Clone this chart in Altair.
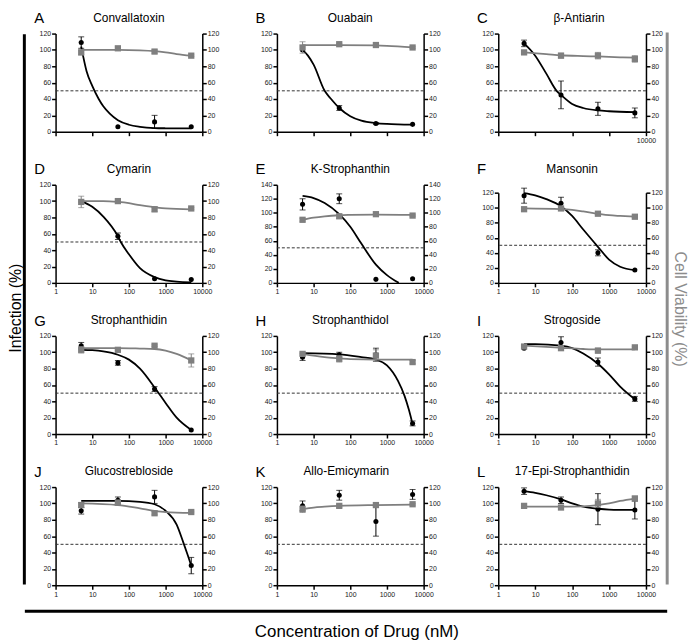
import altair as alt
import pandas as pd

# ---------------- data ----------------
conc = [5, 50, 500, 5000]
letters = list("ABCDEFGHIJKL")
names = ["Convallatoxin", "Ouabain", "β-Antiarin", "Cymarin", "K-Strophanthin", "Mansonin",
         "Strophanthidin", "Strophanthidol", "Strogoside", "Glucostrebloside",
         "Allo-Emicymarin", "17-Epi-Strophanthidin"]

inf_mean = [
    [109, 6, 12, 6], [100, 29, 10, 9], [108, 45, 28, 23],
    [99, 57, 5, 4], [112, 120, 5, 6], [116, 106, 40, 17],
    [108, 87, 55, 5], [94, 97, 97, 13], [105, 112, 88, 43],
    [91, 104, 108, 24], [97, 110, 78, 111], [115, 104, 93, 92],
]
inf_err = [
    [7, 0, 8, 0], [0, 3, 1, 0], [4, 17, 8, 6],
    [0, 4, 0, 0], [8, 7, 0, 0], [10, 8, 4, 0],
    [4, 3, 3, 0], [4, 3, 8, 3], [0, 7, 5, 3],
    [4, 4, 8, 10], [6, 6, 18, 6], [4, 4, 19, 11],
]
via_mean = [
    [97, 102, 98, 93], [103, 107, 106, 103], [97, 93, 93, 89],
    [99, 100, 90, 91], [90, 95, 98, 96], [98, 99, 92, 88],
    [103, 103, 108, 90], [98, 92, 96, 88], [107, 105, 102, 106],
    [98, 101, 88, 89.5], [93, 97, 98, 99], [97, 95, 100, 106],
]
via_err = [
    [3, 2, 2, 1], [7, 1, 1, 1], [1, 3, 4, 4],
    [7, 1, 3, 1], [2, 3, 1, 1], [1, 2, 1, 1],
    [4, 1, 1, 8], [2, 4, 7, 2], [1, 3, 3, 1],
    [3, 3, 2, 1], [4, 2, 1, 1], [1, 1, 5, 3],
]

# fitted curves
inf_cx = [
    [5, 7, 10, 15, 20, 30, 50, 100, 200, 500, 1000, 5000],
    [5, 7, 10, 20, 30, 50, 100, 200, 500, 1000, 2000, 5000],
    [5, 10, 20, 38, 50, 100, 200, 500, 1000, 5000],
    [5, 10, 20, 50, 60, 100, 200, 500, 1000, 2000, 5000],
    [5, 10, 20, 50, 100, 200, 500, 1000, 2100],
    [5, 10, 20, 50, 100, 200, 500, 1000, 2000, 5000],
    [5, 10, 20, 50, 100, 200, 500, 1000, 2000, 5000],
    [5, 50, 200, 500, 1000, 2000, 3000, 4000, 5000],
    [5, 10, 50, 100, 200, 500, 1000, 2000, 5000],
    [5, 50, 200, 500, 1000, 2000, 3000, 4000, 5000],
    [],
    [5, 10, 20, 50, 100, 200, 500, 1000, 5000],
]
inf_cy = [
    [104, 74, 56, 40, 31, 22, 14, 8.5, 6, 4.5, 4.2, 4],
    [100, 93, 82, 50, 40, 29, 19, 13.5, 10.5, 9.5, 9, 8.7],
    [108, 93, 71, 50, 45, 34, 29, 26, 25, 24],
    [100, 93, 81, 57, 50, 35, 18, 7, 3, 1.5, 0.5],
    [124, 121, 114, 98, 80, 56, 26, 11, 0],
    [119.5, 116.5, 111.5, 102, 89, 71, 48, 31, 21.5, 17],
    [103, 102.5, 101, 97, 91, 80, 57, 38, 20, 5],
    [99, 97.5, 94, 91, 84, 65, 47, 29, 12],
    [110, 110, 108, 105, 98.5, 86, 73, 58, 42.5],
    [103, 103, 102, 99, 91, 74, 53, 37, 24],
    [],
    [115, 113, 110, 105, 100, 96, 93.5, 92.5, 92],
]
via_cx = [
    [5, 50, 200, 500, 1000, 2000, 5000],
    [5, 50, 500, 1000, 5000],
    [5, 20, 50, 200, 500, 2000, 5000],
    [5, 20, 50, 100, 200, 500, 1000, 5000],
    [5, 10, 20, 50, 100, 500, 5000],
    [5, 50, 100, 200, 500, 1000, 2000, 5000],
    [5, 50, 200, 500, 1000, 2000, 5000],
    [5, 20, 50, 100, 500, 5000],
    [5, 50, 200, 500, 5000],
    [5, 50, 200, 500, 1000, 5000],
    [5, 10, 20, 50, 500, 5000],
    [5, 50, 200, 500, 1000, 2000, 5000],
]
via_cy = [
    [100, 100, 99.5, 98.5, 97, 95, 93],
    [106, 106, 105.5, 105, 103],
    [97, 95, 93.5, 92.5, 92, 91, 90.5],
    [100, 100, 99, 97.5, 95, 92.5, 91, 90],
    [90, 93, 95, 96.5, 97, 97.5, 97],
    [99, 98, 97, 95, 92, 90, 89, 88],
    [105, 105, 104.5, 104, 102, 98, 90],
    [98, 94, 92.5, 91.5, 91, 91],
    [108, 105.5, 104, 103.5, 103.5],
    [100, 98, 94, 91, 89.5, 88.5],
    [93, 95, 96, 97, 98, 98.5],
    [96, 96, 96.5, 98, 100, 103, 106],
]
xticks = [1, 10, 100, 1000, 10000]

# ---------------- style / layout ----------------
FONT = "Liberation Sans"
GRAY = "#7f7f7f"
LINEGRAY = "#8c8c8c"
H = 99
WIDTHS = [148, 148, 149]
TITLE_DX = [0, 0, 7, 0, 0, 0, 0, 0, 0, 0, -4, 0]


def text_layer(t, x, y, size, color="black", align="center", baseline="alphabetic", angle=0):
    kw = dict(fontSize=size, font=FONT, color=color, align=align, baseline=baseline)
    if angle:
        kw["angle"] = angle
    return alt.Chart(pd.DataFrame({"t": [t]})).mark_text(**kw).encode(
        x=alt.value(x), y=alt.value(y), text="t:N")


def rule_layer(color, **pos):
    enc = {k: alt.value(v) for k, v in pos.items()}
    return alt.Chart(pd.DataFrame({"a": [0]})).mark_rule(color=color, strokeWidth=3).encode(**enc)


def group(i, mean, err, cx, cy, color, mark, yfn, X):
    layers = []
    if cx:
        layers.append(alt.Chart(pd.DataFrame({"x": cx, "y": cy})).mark_line(
            color=color, strokeWidth=1.8, interpolate="monotone", clip=True
        ).encode(x=X("x"), y=yfn("y")))
    d = pd.DataFrame({"x": conc, "m": mean, "e": err})
    d["lo"] = d.m - d.e
    d["hi"] = d.m + d.e
    db = d[d.e > 0]
    if len(db):
        layers.append(alt.Chart(db).mark_rule(color=color, strokeWidth=1).encode(
            x=X("x"), y=yfn("lo"), y2="hi:Q"))
        caps = pd.DataFrame({"x": list(db.x) * 2, "y": list(db.lo) + list(db.hi)})
        layers.append(alt.Chart(caps).mark_tick(
            color=color, orient="horizontal", size=6, thickness=1
        ).encode(x=X("x"), y=yfn("y")))
    if mark == "circle":
        layers.append(alt.Chart(d).mark_circle(color=color, size=26, opacity=1).encode(
            x=X("x"), y=yfn("m")))
    else:
        layers.append(alt.Chart(d).mark_square(color=color, size=40, opacity=1).encode(
            x=X("x"), y=yfn("m")))
    return layers


def panel(i):
    row, col = divmod(i, 3)
    w = WIDTHS[col]
    ymax = 140 if i == 4 else 120
    yvals = list(range(0, ymax + 1, 20))
    if i == 5:
        ysc = alt.Scale(domain=[0, ymax], nice=False, range=[H, 8])
    else:
        ysc = alt.Scale(domain=[0, ymax], nice=False)
    xsc = alt.Scale(type="log", domain=[1, 10000], nice=False)
    common = dict(domainColor="black", domainWidth=1.5, tickColor="black", tickWidth=1.5,
                  tickSize=4, labelFont=FONT, labelFontSize=7, labelColor="#222",
                  labelPadding=1, grid=False, title=None)
    xkw = dict(common, values=xticks, format="d", labelFlush=False, labelOverlap=False)
    if row == 0:
        if col == 2:
            xkw["labelExpr"] = "datum.value == 10000 ? '10000' : ''"
        else:
            xkw["labels"] = False
    xax = alt.Axis(**xkw)
    yL = alt.Axis(orient="left", values=yvals, **common)
    yR = alt.Axis(orient="right", values=yvals, **common)

    def X(f):
        return alt.X(f"{f}:Q", scale=xsc, axis=xax)

    def YL(f):
        return alt.Y(f"{f}:Q", scale=ysc, axis=yL)

    def YR(f):
        return alt.Y(f"{f}:Q", scale=ysc, axis=yR)

    blk = [alt.Chart(pd.DataFrame({"v": [50]})).mark_rule(
        color="#333", strokeWidth=1, strokeDash=[3, 2]).encode(y=YL("v"))]
    blk += group(i, inf_mean[i], inf_err[i], inf_cx[i], inf_cy[i], "black", "circle", YL, X)
    blk.append(text_layer(letters[i], -21.5, -10.5, 15, align="left"))
    blk.append(text_layer(names[i], w / 2 + TITLE_DX[i], -12, 12))
    if i == 0:
        blk.append(rule_layer("black", x=-31.5, y=0.7, y2=555.7))
        blk.append(text_layer("Infection (%)", -40, 277, 16, baseline="middle", angle=270))
    if i == 2:
        blk.append(rule_layer(LINEGRAY, x=170.4, y=-1, y2=555.7))
        blk.append(text_layer("Cell Viability (%)", 183, 278, 16, color=LINEGRAY,
                              baseline="middle", angle=90))
    if i == 9:
        blk.append(rule_layer("black", x=-31, x2=617, y=125.2))
        blk.append(text_layer("Concentration of Drug (nM)", 304, 146, 17, baseline="middle"))

    gry = group(i, via_mean[i], via_err[i], via_cx[i], via_cy[i], GRAY, "square", YR, X)
    return alt.layer(alt.layer(*blk), alt.layer(*gry)).resolve_scale(
        y="independent").properties(width=w, height=H)


chart = alt.concat(
    *[panel(i) for i in range(12)],
    columns=3,
    spacing={"row": 53.5, "column": 75.3},
    bounds="flush",
).properties(padding=0, background="white").configure_view(strokeWidth=0)

chart.save("out.html", embed_options={"renderer": "svg", "actions": False})
